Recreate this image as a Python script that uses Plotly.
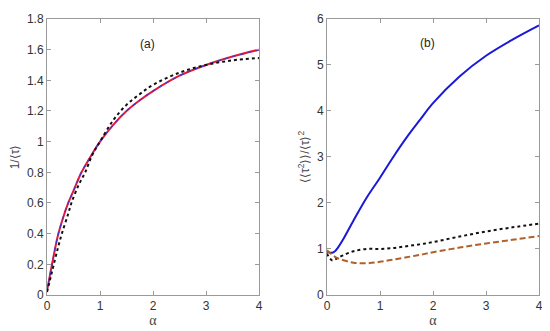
import plotly.graph_objects as go

# Panel (a): 1/<tau> vs alpha
a_alpha = [0, 0.05, 0.1, 0.2, 0.3, 0.4, 0.5, 0.65, 0.8, 1.0, 1.25, 1.5, 1.75, 2.0, 2.5, 3.0, 3.5, 4.0]
a_solid = [0.03, 0.12, 0.21, 0.38, 0.50, 0.60, 0.68, 0.80, 0.89, 1.00, 1.11, 1.20, 1.27, 1.33, 1.43, 1.50, 1.555, 1.60]
a_dot_alpha = [0, 0.05, 0.1, 0.2, 0.28, 0.4, 0.46, 0.6, 0.72, 0.85, 1.0, 1.25, 1.5, 1.75, 2.0, 2.5, 3.0, 3.5, 4.0]
a_dot = [0.02, 0.09, 0.16, 0.30, 0.40, 0.53, 0.60, 0.72, 0.80, 0.91, 1.00, 1.14, 1.24, 1.31, 1.37, 1.45, 1.50, 1.53, 1.545]

# Panel (b): <<tau^2>>/<tau>^2 vs alpha
b_alpha = [0, 0.05, 0.1, 0.15, 0.2, 0.3, 0.5, 0.75, 1.0, 1.25, 1.5, 1.75, 2.0, 2.5, 3.0, 3.5, 4.0]
b_blue = [0.95, 0.92, 0.92, 0.95, 1.02, 1.2, 1.62, 2.12, 2.55, 3.0, 3.42, 3.8, 4.17, 4.75, 5.2, 5.55, 5.86]
b_dot = [0.9, 0.8, 0.75, 0.77, 0.8, 0.86, 0.95, 1.0, 1.0, 1.02, 1.06, 1.1, 1.15, 1.27, 1.38, 1.47, 1.55]
b_dash = [0.97, 0.92, 0.87, 0.83, 0.8, 0.76, 0.7, 0.69, 0.72, 0.77, 0.82, 0.87, 0.93, 1.03, 1.12, 1.2, 1.28]

x_ticks = [0, 1, 2, 3, 4]
a_yticks = [0, 0.2, 0.4, 0.6, 0.8, 1, 1.2, 1.4, 1.6, 1.8]
a_yticktext = ["0", "0.2", "0.4", "0.6", "0.8", "1", "1.2", "1.4", "1.6", "1.8"]
b_yticks = [0, 1, 2, 3, 4, 5, 6]

fig = go.Figure()
fig.add_trace(go.Scatter(x=a_alpha, y=a_solid, mode="lines", line=dict(color="#e8173c", width=2, shape="spline"), xaxis="x", yaxis="y"))
fig.add_trace(go.Scatter(x=a_alpha, y=a_solid, mode="lines", line=dict(color="#3a3ad0", width=1.2, dash="4px,4px", shape="spline"), xaxis="x", yaxis="y"))
fig.add_trace(go.Scatter(x=a_dot_alpha, y=a_dot, mode="lines", line=dict(color="#111111", width=2, dash="dot", shape="spline"), xaxis="x", yaxis="y"))

fig.add_trace(go.Scatter(x=b_alpha, y=b_blue, mode="lines", line=dict(color="#1a1ad6", width=2, shape="spline"), xaxis="x2", yaxis="y2"))
fig.add_trace(go.Scatter(x=b_alpha, y=b_dot, mode="lines", line=dict(color="#111111", width=2, dash="dot", shape="spline"), xaxis="x2", yaxis="y2"))
fig.add_trace(go.Scatter(x=b_alpha, y=b_dash, mode="lines", line=dict(color="#b0602a", width=2, dash="6px,3px", shape="spline"), xaxis="x2", yaxis="y2"))

axis_common = dict(showgrid=False, zeroline=False, showline=True, linecolor="#9a9a9a", linewidth=1,
                   mirror="ticks", ticks="inside", ticklen=4, tickcolor="#9a9a9a", automargin=False,
                   tickfont=dict(family="Liberation Sans, Arial", size=12, color="#333333"))

fig.update_layout(
    width=542, height=323, margin=dict(l=0, r=0, t=0, b=0),
    paper_bgcolor="white", plot_bgcolor="white", showlegend=False,
    xaxis=dict(domain=[0.072, 0.4631], range=[0, 4], tickvals=x_ticks, anchor="y",
               title=dict(text="α", font=dict(family="Liberation Serif", size=14, color="#444"), standoff=1), **axis_common),
    yaxis=dict(domain=[0.1115, 0.966], range=[0, 1.8], tickvals=a_yticks, ticktext=a_yticktext, anchor="x",
               title=dict(text="1/⟨τ⟩", font=dict(family="Liberation Sans", size=12, color="#444"), standoff=6), **axis_common),
    xaxis2=dict(domain=[0.5886, 0.9797], range=[0, 4], tickvals=x_ticks, anchor="y2",
                title=dict(text="α", font=dict(family="Liberation Serif", size=14, color="#444"), standoff=1), **axis_common),
    yaxis2=dict(domain=[0.1115, 0.966], range=[0, 6], tickvals=b_yticks, anchor="x2",
                title=dict(text="⟨⟨τ<sup>2</sup>⟩⟩/⟨τ⟩<sup>2</sup>", font=dict(family="Liberation Sans", size=12, color="#444"), standoff=4), **axis_common),
    annotations=[
        dict(text="(a)", x=1.9, y=1.64, xref="x", yref="y", showarrow=False, font=dict(family="Liberation Sans", size=12, color="#222")),
        dict(text="(b)", x=1.9, y=5.47, xref="x2", yref="y2", showarrow=False, font=dict(family="Liberation Sans", size=12, color="#222")),
    ],
)

fig.write_html("out.html")
